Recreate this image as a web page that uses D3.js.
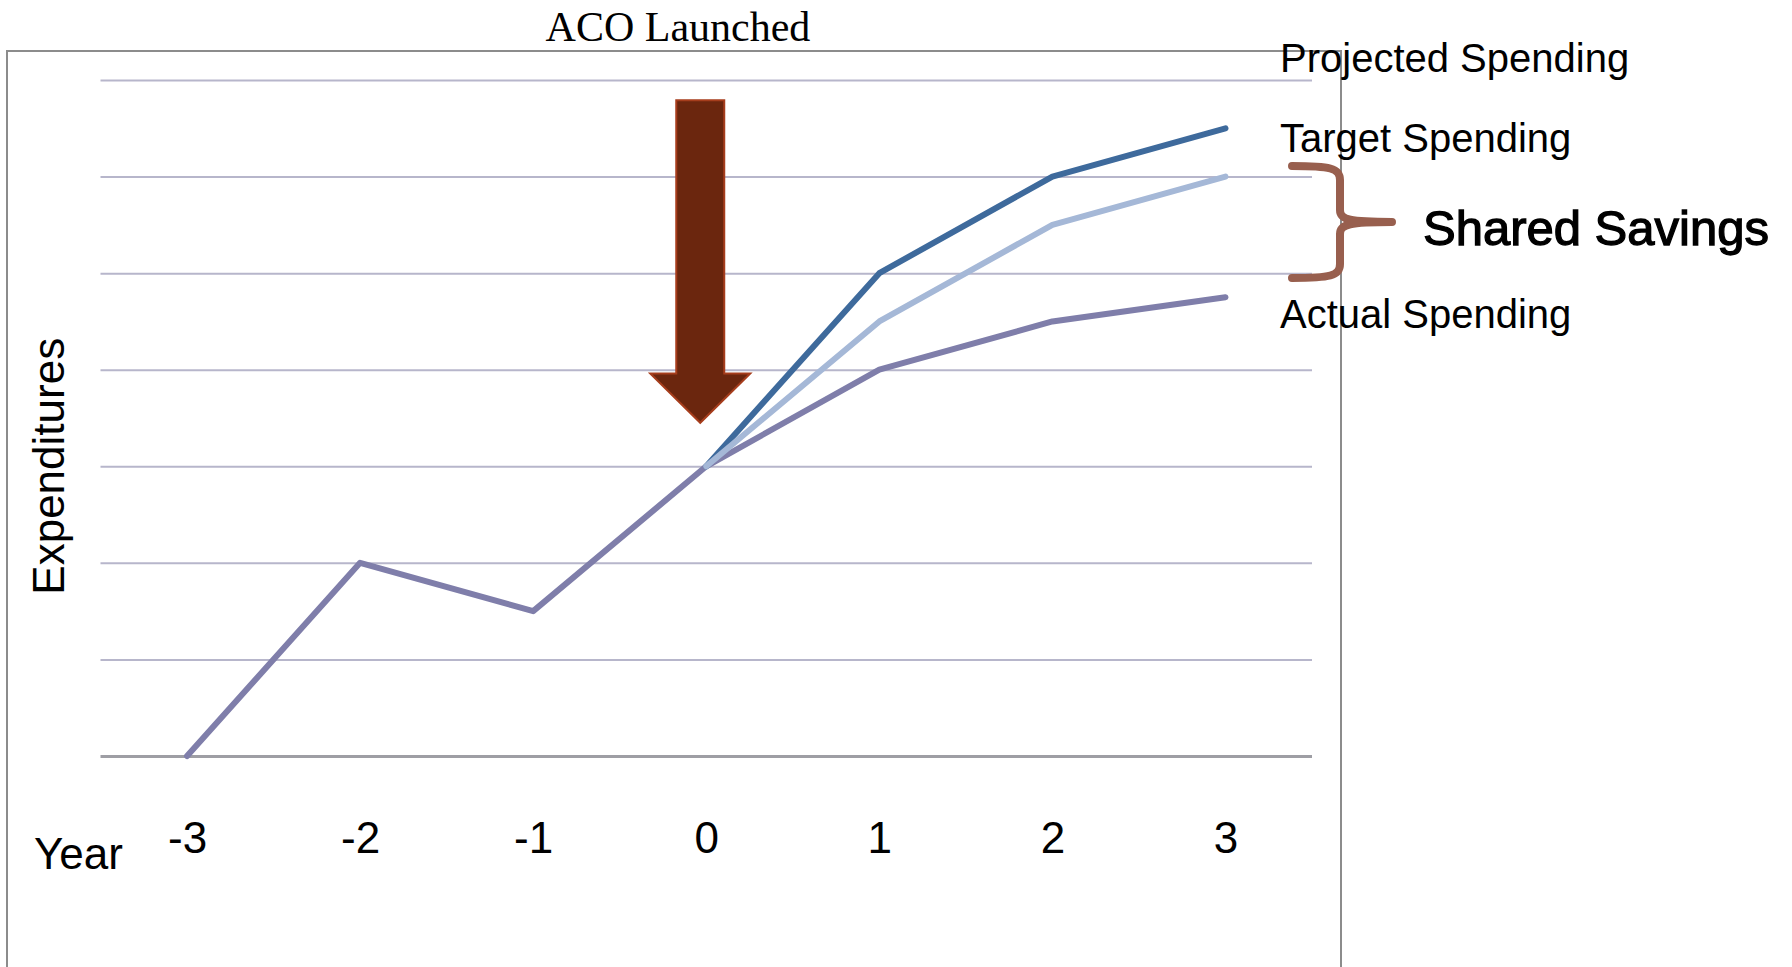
<!DOCTYPE html>
<html>
<head>
<meta charset="utf-8">
<script src="https://cdn.jsdelivr.net/npm/d3@7"></script>
<style>
  html, body { margin: 0; padding: 0; background: #ffffff; }
  svg { display: block; }
</style>
</head>
<body>
<svg id="chart" width="1792" height="967"></svg>
<script>
// Years relative to ACO launch
const years = [-3, -2, -1, 0, 1, 2, 3];
// Expenditure levels (arbitrary units, one per gridline)
const actualSpending    = [0, 2, 1.5, 3, 4, 4.5, 4.75];
const targetSpending    = [null, null, null, 3, 4.5, 5.5, 6];
const projectedSpending = [null, null, null, 3, 5, 6, 6.5];
const gridValues = [0, 1, 2, 3, 4, 5, 6, 7];

const svg = d3.select("#chart");

// Outer frame
svg.append("rect")
  .attr("x", 7).attr("y", 51).attr("width", 1334).attr("height", 1000)
  .attr("fill", "none").attr("stroke", "#8c8c8c").attr("stroke-width", 2);

const x = d3.scalePoint().domain(years).range([100.5, 1312]).padding(0.5);
const y = d3.scaleLinear().domain([0, 7]).range([756, 80]);

// Horizontal gridlines
const grid = svg.append("g")
  .attr("transform", "translate(100.5,0)")
  .call(d3.axisLeft(y).tickValues(gridValues).tickSize(-(1312 - 100.5)).tickFormat(""));
grid.select(".domain").remove();
grid.selectAll(".tick line")
  .attr("stroke", d => d === 0 ? "#9e9ea4" : "#b7b6cb")
  .attr("stroke-width", d => d === 0 ? 3 : 2);

// Year labels
const tickFont = "'Liberation Sans', sans-serif";
const xAxis = svg.append("g")
  .attr("transform", "translate(0,756)")
  .call(d3.axisBottom(x).tickSize(0).tickFormat(d => d));
xAxis.select(".domain").remove();
xAxis.selectAll(".tick text")
  .attr("y", 97).attr("dy", 0)
  .attr("fill", "#000")
  .style("font-family", tickFont)
  .style("font-size", "44px");

svg.append("text")
  .attr("x", 34).attr("y", 869)
  .style("font-family", tickFont)
  .style("font-size", "44px")
  .text("Year");

svg.append("text")
  .attr("transform", `translate(64,${y(3)}) rotate(-90)`)
  .attr("text-anchor", "middle")
  .style("font-family", tickFont)
  .style("font-size", "44px")
  .text("Expenditures");

// Spending lines
const line = d3.line()
  .defined(d => d[1] !== null)
  .x(d => x(d[0]))
  .y(d => y(d[1]));

const series = [
  { values: actualSpending,    color: "#7f7eaa" },
  { values: projectedSpending, color: "#3e6a9c" },
  { values: targetSpending,    color: "#a5b8d7" }
];
svg.selectAll("path.series")
  .data(series)
  .join("path")
  .attr("class", "series")
  .attr("fill", "none")
  .attr("stroke", d => d.color)
  .attr("stroke-width", 6)
  .attr("stroke-linejoin", "round")
  .attr("stroke-linecap", "round")
  .attr("d", d => line(years.map((yr, i) => [yr, d.values[i]])));

// Launch arrow at year 0
const ax = x(0) - 6;
const arrowTop = y(6.79), headBase = y(3.96), tip = y(3.45);
const shaftHalf = 24, headHalf = 50;
svg.append("path")
  .attr("d", `M${ax - shaftHalf},${arrowTop} L${ax + shaftHalf},${arrowTop} L${ax + shaftHalf},${headBase}
              L${ax + headHalf},${headBase} L${ax},${tip} L${ax - headHalf},${headBase}
              L${ax - shaftHalf},${headBase} Z`)
  .attr("fill", "#6b260e")
  .attr("stroke", "#a63d1c")
  .attr("stroke-width", 2)
  .attr("stroke-linejoin", "miter");

svg.append("text")
  .attr("x", 678).attr("y", 41)
  .attr("text-anchor", "middle")
  .style("font-family", "'Liberation Serif', serif")
  .style("font-size", "42px")
  .text("ACO Launched");

// Series labels
const labelFont = "'Liberation Sans', sans-serif";
[["Projected Spending", 72], ["Target Spending", 152], ["Actual Spending", 328]].forEach(([t, by]) => {
  svg.append("text")
    .attr("x", 1280).attr("y", by)
    .style("font-family", labelFont)
    .style("font-size", "40px")
    .text(t);
});

// Brace marking the savings gap
const bTop = 166, bBot = 278, bMid = (bTop + bBot) / 2;
const bL = 1292, bS = 1340, bTip = 1392;
svg.append("path")
  .attr("d", `M${bL},${bTop} C${bS - 10},${bTop} ${bS},${bTop + 2} ${bS},${bTop + 14}
              L${bS},${bMid - 12} C${bS},${bMid - 2} ${bS + 10},${bMid} ${bTip},${bMid}
              C${bS + 10},${bMid} ${bS},${bMid + 2} ${bS},${bMid + 12}
              L${bS},${bBot - 14} C${bS},${bBot - 2} ${bS - 10},${bBot} ${bL},${bBot}`)
  .attr("fill", "none")
  .attr("stroke", "#985f4e")
  .attr("stroke-width", 8)
  .attr("stroke-linecap", "round")
  .attr("stroke-linejoin", "round");

svg.append("text")
  .attr("x", 1423).attr("y", 245)
  .style("font-family", labelFont)
  .style("font-size", "49px")
  .attr("stroke", "#000")
  .attr("stroke-width", 1.3)
  .text("Shared Savings");
</script>
</body>
</html>
